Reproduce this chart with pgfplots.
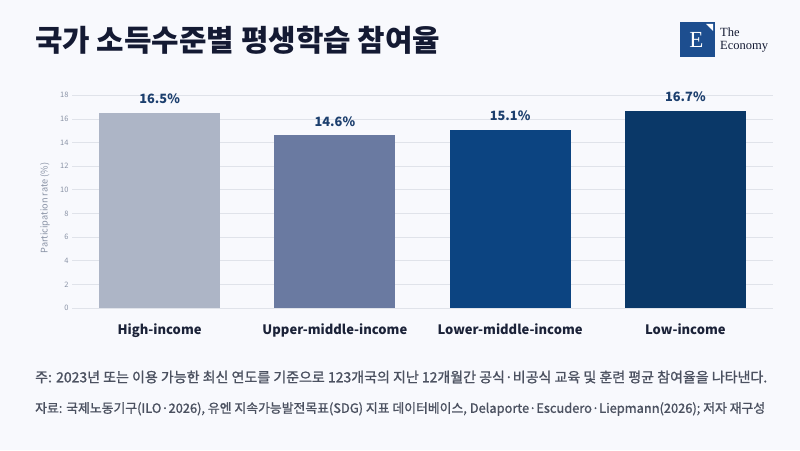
\documentclass[border=0pt]{standalone}
\usepackage{pgfplots}
\pgfplotsset{compat=1.18}
\usepackage{graphicx}
\usepackage{fontspec}
\setmainfont{Noto Sans CJK KR}
\newfontfamily\notefont[FakeBold=1.2]{Noto Sans CJK KR}
\newfontfamily\logoserif{Liberation Serif}
\definecolor{bgc}{HTML}{F8F9FD}
\definecolor{barA}{HTML}{ADB5C6}
\definecolor{barB}{HTML}{6A7AA1}
\definecolor{barC}{HTML}{0C4481}
\definecolor{barD}{HTML}{0A3868}
\definecolor{valc}{HTML}{1C3F6E}
\definecolor{catc}{HTML}{1B2238}
\definecolor{titlec}{HTML}{141A33}
\definecolor{notec}{HTML}{4B5160}
\definecolor{tickc}{HTML}{8A93A6}
\definecolor{gridc}{HTML}{E0E3EA}
\definecolor{logoc}{HTML}{1D4E8F}
\begin{document}
\begin{tikzpicture}[x=1pt,y=1pt]
\useasboundingbox (0pt,0pt) rectangle (800pt,450pt);
\fill[bgc] (0pt,0pt) rectangle (800pt,450pt);
\node[anchor=west, text=titlec, inner sep=0] at (35pt,410pt) {\resizebox{405pt}{!}{\bfseries 국가 소득수준별 평생학습 참여율}};
% logo
\fill[logoc] (680pt,393pt) rectangle (715pt,428pt);
\fill[white] (706pt,426pt) -- (713pt,426pt) -- (713pt,419pt) -- cycle;
\node[text=white, inner sep=0] at (696.5pt,410pt) {\logoserif\fontsize{23}{23}\selectfont E};
\node[anchor=base west, inner sep=0, text=titlec] at (720pt,413pt) {\logoserif\fontsize{12.5}{12.5}\selectfont The};
\node[anchor=base west, inner sep=0, text=titlec] at (720pt,400pt) {\logoserif\fontsize{12.5}{12.5}\selectfont Economy};
% y label
\node[rotate=90, text=tickc, inner sep=0] at (45pt,242pt) {\fontsize{9.2}{10}\selectfont Participation rate (\%)};
\begin{axis}[
  at={(72pt,142pt)}, anchor=south west,
  scale only axis, width=701pt, height=212.7pt,
  xmin=-0.5, xmax=3.5, ymin=0, ymax=18,
  ybar, bar width=121pt,
  clip=false,
  axis line style={draw=none},
  major tick length=0pt,
  ymajorgrids, grid style={color=gridc, line width=0.8pt},
  ytick={0,2,...,18},
  /pgf/number format/assume math mode=true,
  yticklabel style={font=\fontsize{7.5}{8}\selectfont, text=tickc},
  xtick={0,1,2,3},
  xticklabels={High-income, Upper-middle-income, Lower-middle-income, Low-income},
  xticklabel style={font=\fontsize{13}{14}\selectfont\bfseries, text=catc, yshift=-12.5pt},
  nodes near coords={\pgfmathprintnumber[fixed,precision=1,fixed zerofill,assume math mode=true]{\pgfplotspointmeta}\%},
  every node near coord/.append style={font=\fontsize{12.8}{14}\selectfont\bfseries, text=valc, yshift=5.5pt},
]
\addplot[fill=barA, draw=none, bar shift=0pt] coordinates {(0,16.5)};
\addplot[fill=barB, draw=none, bar shift=0pt] coordinates {(1,14.6)};
\addplot[fill=barC, draw=none, bar shift=0pt] coordinates {(2,15.1)};
\addplot[fill=barD, draw=none, bar shift=0pt] coordinates {(3,16.7)};
\end{axis}
\node[anchor=west, inner sep=0, text=notec] at (35pt,73pt) {\resizebox{732pt}{!}{\notefont\fontsize{13}{15}\selectfont 주: 2023년 또는 이용 가능한 최신 연도를 기준으로 123개국의 지난 12개월간 공식·비공식 교육 및 훈련 평균 참여율을 나타낸다.}};
\node[anchor=west, inner sep=0, text=notec] at (35pt,41pt) {\resizebox{730pt}{!}{\notefont\fontsize{11}{13}\selectfont 자료: 국제노동기구(ILO·2026), 유엔 지속가능발전목표(SDG) 지표 데이터베이스, Delaporte·Escudero·Liepmann(2026); 저자 재구성}};
\end{tikzpicture}
\end{document}
